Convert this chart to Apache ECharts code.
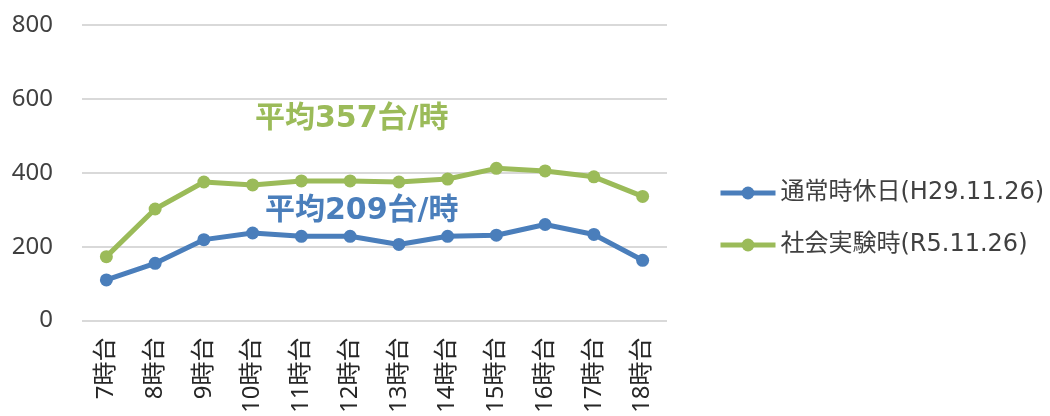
<!DOCTYPE html>
<html><head><meta charset="utf-8">
<script src="https://cdn.jsdelivr.net/npm/echarts@6/dist/echarts.min.js"></script>
<style>html,body{margin:0;padding:0;background:#fff}#c{width:1050px;height:416px}</style>
</head><body><div id="c"></div>
<script>
const categories = ['7時台','8時台','9時台','10時台','11時台','12時台','13時台','14時台','15時台','16時台','17時台','18時台'];
const seriesNames = ['通常時休日(H29.11.26)','社会実験時(R5.11.26)'];
const normalValues = [110,155,219,237,228,228,206,228,231,260,233,163];
const experimentValues = [173,302,375,367,378,378,375,383,412,405,389,336];
const averageLabels = ['平均209台/時','平均357台/時'];
const yTicks = {min:0, max:800, interval:200};

const BLUE = '#4a7ebb', GREEN = '#9bbb59';
const FONT = '"Noto Sans","Noto Sans CJK JP",sans-serif';
const WIDE = '"DejaVu Sans","Noto Sans CJK JP",sans-serif';
const chart = echarts.init(document.getElementById('c'), null, {renderer:'canvas'});
const mkSeries = (name, data, color) => ({
  name, type:'line', data, symbol:'circle', symbolSize:13,
  lineStyle:{width:5, color}, itemStyle:{color}, animation:false
});
chart.setOption({
  animation:false,
  textStyle:{fontFamily:FONT},
  grid:{left:82, right:383, top:25, bottom:94, containLabel:false},
  xAxis:{type:'category', data:categories, boundaryGap:true,
    axisLine:{show:false}, axisTick:{show:false},
    axisLabel:{rotate:90, fontSize:24, color:'#262626', margin:17, fontFamily:FONT}},
  yAxis:{type:'value', min:yTicks.min, max:yTicks.max, interval:yTicks.interval,
    axisLine:{show:false}, axisTick:{show:false},
    splitLine:{lineStyle:{color:'#d9d9d9', width:2}},
    axisLabel:{fontSize:24, color:'#404040', margin:29, fontFamily:FONT}},
  legend:{orient:'vertical', left:713, top:176, itemGap:28, itemWidth:55, itemHeight:16,
    lineStyle:{width:5}, itemStyle:{borderWidth:0},
    textStyle:{fontSize:24, color:'#404040', fontFamily:WIDE},
    data:seriesNames},
  graphic:[
    {type:'text', left:255, top:104, style:{text:averageLabels[1], fill:GREEN, font:'bold 30px '+WIDE}},
    {type:'text', left:265, top:196, style:{text:averageLabels[0], fill:BLUE, font:'bold 30px '+WIDE}}
  ],
  series:[mkSeries(seriesNames[0], normalValues, BLUE), mkSeries(seriesNames[1], experimentValues, GREEN)]
});
</script></body></html>
